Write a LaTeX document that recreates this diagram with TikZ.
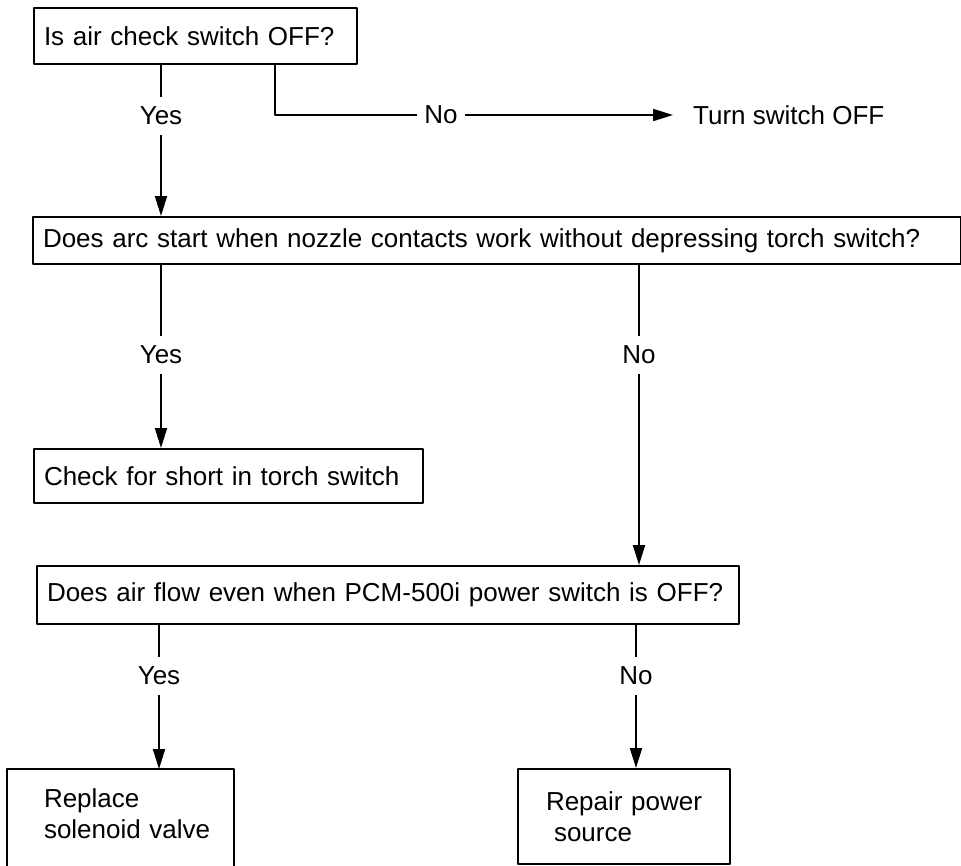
\documentclass[tikz,border=0pt]{standalone}
\usepackage{fontspec}
\setmainfont{Liberation Sans}
\usetikzlibrary{arrows.meta}

\begin{document}
\begin{tikzpicture}[x=1pt,y=-1pt,line join=round,>={Triangle[length=20pt,width=12pt]},
  qbox/.style={draw,line width=2pt,anchor=north west,align=left,inner xsep=10pt,inner ysep=0pt,font=\fontsize{26}{31}\selectfont},
  answer/.style={inner xsep=7pt,inner ysep=10pt,font=\fontsize{26}{31}\selectfont},
  link/.style={line width=2pt}]
\useasboundingbox (0,0) rectangle (961,865);
\clip (0,0) rectangle (961,865);

\node[qbox,text width=303pt,minimum height=56pt] (qswitch) at (33,7) {Is air check switch OFF?};
\node[answer] (yes1) at (161,116) {Yes};
\node[answer] (no1) at (441,115) {No};
\node[anchor=west,inner sep=0pt,font=\fontsize{26}{31}\selectfont] (turnoff) at (693,115) {Turn switch OFF};
\coordinate (nobend) at (275,115);

\node[qbox,text width=908pt,minimum height=47pt] (qarc) at (32,216) {Does arc start when nozzle contacts work without depressing torch switch?};
\node[answer] (yes2) at (161,355) {Yes};
\node[answer] (no2) at (639,355) {No};
\node[qbox,text width=369pt,minimum height=54pt] (shortchk) at (33,448) {Check for short in torch switch};

\node[qbox,text width=682pt,minimum height=58pt] (qair) at (36,565) {Does air flow even when PCM-500i power switch is OFF?};
\node[answer] (yes3) at (159,676) {Yes};
\node[answer] (no3) at (636,676) {No};
\node[qbox,draw=none,text width=205pt,minimum height=88pt] (valve) at (7,769) {\hspace*{26pt}Replace\\\hspace*{26pt}solenoid valve};
\draw[line width=2pt] (valve.south west) ++(0,20) -- (valve.north west) -- (valve.north east) -- ++(0,110);
\node[qbox,text width=192pt,minimum height=95pt] (repair) at (517,768) {\hspace*{18pt}Repair power\\\hspace*{26pt}source};

% first question
\draw[link] (qswitch.south -| yes1) -- (yes1.north);
\draw[link,->] (yes1.south) -- (yes1.south |- qarc.north);
\draw[link] (qswitch.south -| nobend) -- (nobend) -- (no1.west);
\draw[link,->,shorten >=20pt] (no1.east) -- (turnoff.west);

% arc question
\draw[link] (qarc.south -| yes2) -- (yes2.north);
\draw[link,->] (yes2.south) -- (yes2.south |- shortchk.north);
\draw[link] (qarc.south -| no2) -- (no2.north);
\draw[link,->] (no2.south) -- (no2.south |- qair.north);

% air flow question
\draw[link] (qair.south -| yes3) -- (yes3.north);
\draw[link,->] (yes3.south) -- (yes3.south |- valve.north);
\draw[link] (qair.south -| no3) -- (no3.north);
\draw[link,->] (no3.south) -- (no3.south |- repair.north);

\end{tikzpicture}
\end{document}
